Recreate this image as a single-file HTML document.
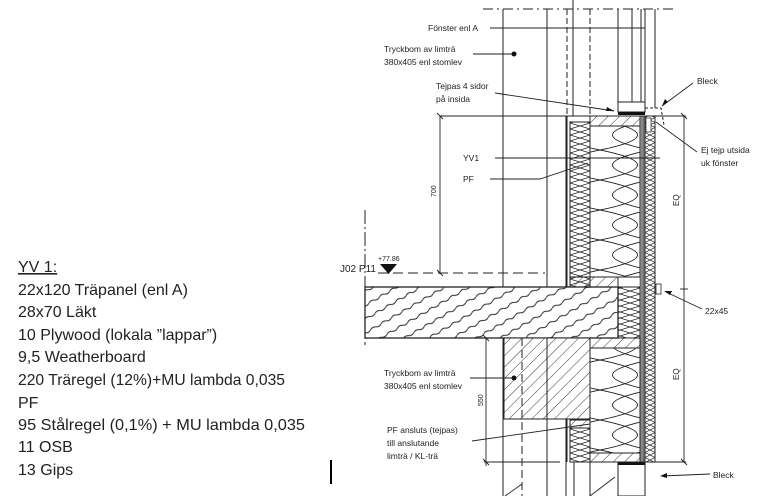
<!DOCTYPE html>
<html><head><meta charset="utf-8"><style>
html,body{margin:0;padding:0;background:#fff}
svg{display:block}
.t{font-family:"Liberation Sans",sans-serif;font-size:16px;fill:#222}
.s{font-family:"Liberation Sans",sans-serif;font-size:8.5px;fill:#222}
</style></head><body>
<svg width="776" height="496" viewBox="0 0 776 496" xmlns="http://www.w3.org/2000/svg">
<defs>
<pattern id="big" width="50" height="30" patternUnits="userSpaceOnUse">
<path d="M0,0 C50,10 50,20 0,30 M50,0 C0,10 0,20 50,30" fill="none" stroke="#222" stroke-width="0.9"/>
</pattern>
<pattern id="small" width="20" height="6" patternUnits="userSpaceOnUse">
<path d="M0,0 L20,6 M20,0 L0,6" fill="none" stroke="#222" stroke-width="0.8"/>
</pattern>
<pattern id="diag" width="8" height="8" patternUnits="userSpaceOnUse" patternTransform="rotate(45)">
<line x1="0" y1="0" x2="0" y2="8" stroke="#222" stroke-width="0.9"/>
</pattern>
<pattern id="slab" width="12" height="12" patternUnits="userSpaceOnUse" patternTransform="rotate(-30)">
<path d="M0,3 q3,-2 6,0 t6,0" fill="none" stroke="#222" stroke-width="0.9"/>
</pattern>
<pattern id="clad" width="10" height="5" patternUnits="userSpaceOnUse">
<path d="M0,0 L10,5 M10,0 L0,5" stroke="#222" stroke-width="0.7"/>
</pattern>
</defs>

<g class="t">
<text x="18" y="272" text-decoration="underline">YV 1:</text>
<text x="18" y="295">22x120 Träpanel (enl A)</text>
<text x="18" y="317">28x70 Läkt</text>
<text x="18" y="340">10 Plywood (lokala ”lappar”)</text>
<text x="18" y="362">9,5 Weatherboard</text>
<text x="18" y="385" textLength="267" lengthAdjust="spacingAndGlyphs">220 Träregel (12%)+MU lambda 0,035</text>
<text x="18" y="408">PF</text>
<text x="18" y="430" textLength="287" lengthAdjust="spacingAndGlyphs">95  Stålregel (0,1%) + MU lambda 0,035</text>
<text x="18" y="452">11 OSB</text>
<text x="18" y="475">13 Gips</text>
</g>
<line x1="331" y1="460" x2="331" y2="484" stroke="#000" stroke-width="2"/>

<g stroke="#222" fill="none" stroke-width="1">
<line x1="483" y1="9" x2="675" y2="9" stroke-dasharray="10,4,2,4"/>
<line x1="503" y1="9" x2="503" y2="496"/>
<line x1="547" y1="9" x2="547" y2="287"/>
<line x1="547" y1="338" x2="547" y2="496"/>
<line x1="567" y1="9" x2="567" y2="116" stroke-dasharray="6,3"/>
<line x1="573" y1="0" x2="573" y2="116"/>
<line x1="590" y1="9" x2="590" y2="116" stroke-dasharray="6,3"/>
<line x1="618" y1="9" x2="618" y2="102"/>
<line x1="632" y1="9" x2="632" y2="102"/>
<line x1="641" y1="9" x2="641" y2="102"/>
<line x1="645" y1="9" x2="645" y2="112"/>
<line x1="655" y1="9" x2="655" y2="108"/>
<line x1="522" y1="338" x2="522" y2="496" stroke-dasharray="8,4"/>
<line x1="574" y1="462" x2="574" y2="496"/>
<line x1="566" y1="462" x2="566" y2="496"/>
<line x1="590" y1="462" x2="590" y2="496"/>
</g>

<rect x="570" y="122" width="20" height="165" fill="url(#small)" stroke="#222"/>
<rect x="590" y="116" width="50" height="10" fill="url(#diag)" stroke="#222"/>
<rect x="590" y="126" width="50" height="151" fill="url(#big)" stroke="#222"/>
<rect x="570" y="277" width="48" height="10" fill="url(#diag)" stroke="#222"/>
<rect x="618" y="287" width="22" height="51" fill="url(#small)" stroke="#222"/>
<rect x="640" y="116" width="4" height="346" fill="#888" stroke="#222" stroke-width="0.5"/>
<rect x="645" y="116" width="10" height="346" fill="url(#clad)" stroke="#222"/>
<rect x="646" y="118" width="5" height="14" fill="#fff" stroke="#222" stroke-width="0.7"/>
<rect x="656" y="284" width="5" height="10" fill="#fff" stroke="#222" stroke-width="0.8"/>
<line x1="567" y1="116" x2="567" y2="462" stroke="#222"/>
<line x1="566" y1="116" x2="566" y2="462" stroke="#222"/>
<rect x="618" y="102" width="27" height="10" fill="#fff" stroke="#222"/>
<rect x="618" y="112" width="27" height="3" fill="#111"/>
<path d="M645,108 L661,108 L664,125" fill="none" stroke="#222" stroke-dasharray="3,2"/>

<!-- slab -->
<rect x="365" y="287" width="253" height="51" fill="#fff"/>
<rect x="365" y="287" width="253" height="51" fill="url(#slab)" stroke="#222" stroke-width="1.3"/>
<line x1="365" y1="210" x2="365" y2="345" stroke="#222" stroke-dasharray="14,3,2,3"/>
<rect x="504" y="338" width="86" height="81" fill="#fff"/>
<rect x="504" y="338" width="86" height="81" fill="url(#diag)" stroke="#222"/>
<line x1="522" y1="338" x2="522" y2="419" stroke="#222" stroke-dasharray="8,4"/>
<line x1="547" y1="338" x2="547" y2="419" stroke="#222"/>
<rect x="590" y="338" width="50" height="10" fill="url(#diag)" stroke="#222"/>
<rect x="590" y="348" width="50" height="105" fill="url(#big)" stroke="#222"/>
<rect x="590" y="453" width="50" height="9" fill="url(#diag)" stroke="#222"/>
<rect x="570" y="420" width="20" height="8" fill="url(#diag)" stroke="#222"/>
<rect x="570" y="428" width="20" height="34" fill="url(#small)" stroke="#222"/>
<rect x="618" y="462" width="27" height="34" fill="#fff" stroke="#222"/>
<rect x="618" y="462" width="27" height="3" fill="#111"/>

<g stroke="#222" stroke-width="0.9" fill="none">
<line x1="440" y1="116" x2="686" y2="116"/>
<line x1="440" y1="116" x2="440" y2="274"/>
<line x1="684" y1="116" x2="684" y2="462"/>
<line x1="680" y1="289" x2="688" y2="289"/>
<line x1="486" y1="338" x2="486" y2="466"/>
<line x1="484" y1="462" x2="560" y2="462"/>
<line x1="617" y1="462" x2="686" y2="462"/>
<line x1="378" y1="273" x2="545" y2="273" stroke-dasharray="10,5"/>
<line x1="437" y1="113" x2="443" y2="119"/><line x1="681" y1="113" x2="687" y2="119"/>
<line x1="437" y1="270" x2="443" y2="276"/><line x1="483" y1="335" x2="489" y2="341"/>
<line x1="483" y1="459" x2="489" y2="465"/><line x1="681" y1="459" x2="687" y2="465"/>
</g>
<path d="M380,264 L397,264 L388.5,274 Z" fill="#111"/>

<g stroke="#222" stroke-width="0.9" fill="none">
<line x1="490" y1="28" x2="645" y2="28"/>
<line x1="473" y1="54" x2="513" y2="54"/>
<line x1="495" y1="93" x2="614" y2="111"/>
<line x1="693" y1="83" x2="662" y2="106"/>
<line x1="495" y1="158" x2="660" y2="158"/>
<path d="M490,179 L540,179 L588,163"/>
<line x1="697" y1="152" x2="656" y2="122"/>
<line x1="702" y1="309" x2="666" y2="292"/>
<line x1="470" y1="378" x2="514" y2="378"/>
<line x1="472" y1="441" x2="590" y2="424"/>
<line x1="710" y1="474" x2="662" y2="476"/>
<line x1="505" y1="496" x2="522" y2="484"/>
<line x1="590" y1="496" x2="615" y2="477"/>
</g>
<circle cx="514" cy="54" r="2.5" fill="#111"/>
<circle cx="514" cy="378" r="2.5" fill="#111"/>
<g fill="#111">
<path d="M614,111 l-7,-4 l-1,4 z"/>
<path d="M662,106 l3,-7 l3,3 z"/>
<path d="M664,291 l8,0 l-2,4 z"/>
<path d="M660,476 l7,-3 l0,5 z"/>
</g>

<g class="s">
<text x="428" y="31">Fönster enl A</text>
<text x="384" y="52">Tryckbom av limträ</text>
<text x="384" y="65">380x405 enl stomlev</text>
<text x="436" y="89">Tejpas 4 sidor</text>
<text x="436" y="102">på insida</text>
<text x="697" y="84">Bleck</text>
<text x="463" y="161">YV1</text>
<text x="463" y="182">PF</text>
<text x="701" y="153">Ej tejp utsida</text>
<text x="701" y="166">uk fönster</text>
<text x="705" y="314">22x45</text>
<text x="384" y="376">Tryckbom av limträ</text>
<text x="384" y="389">380x405 enl stomlev</text>
<text x="387" y="433">PF ansluts (tejpas)</text>
<text x="387" y="446">till anslutande</text>
<text x="387" y="459">limträ / KL-trä</text>
<text x="713" y="478">Bleck</text>
<text x="378" y="261" font-size="7">+77.86</text>
<text x="340" y="272" font-size="10">J02 P11</text>
<text transform="translate(436,197) rotate(-90)" font-size="7">700</text>
<text transform="translate(679,206) rotate(-90)" font-size="8">EQ</text>
<text transform="translate(679,380) rotate(-90)" font-size="8">EQ</text>
<text transform="translate(483,406) rotate(-90)" font-size="7">550</text>
</g>
</svg>
</body></html>
